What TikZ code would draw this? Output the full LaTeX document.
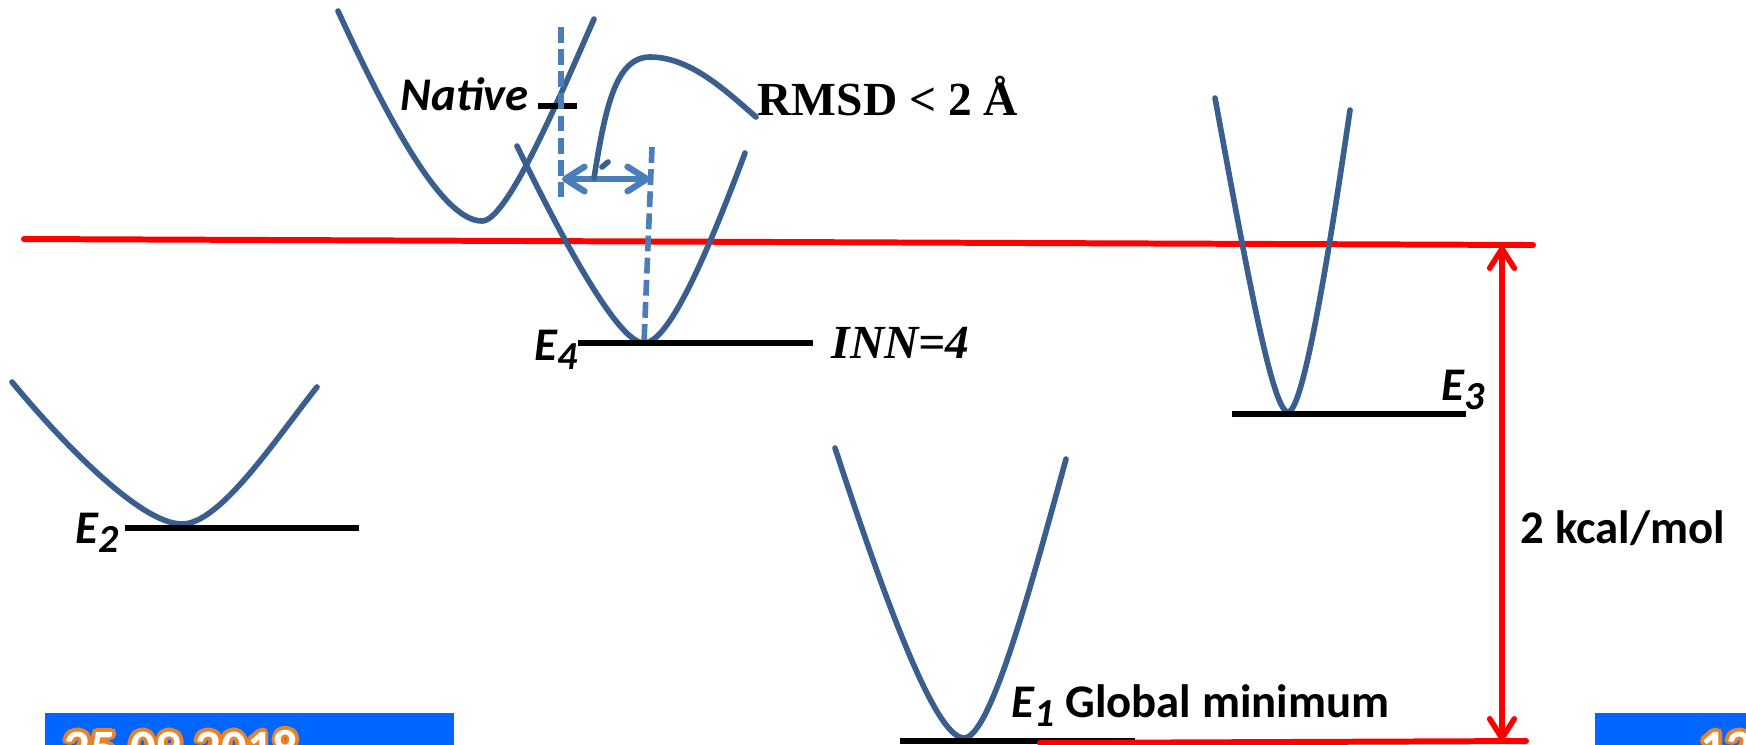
\documentclass[tikz,border=0pt]{standalone}
\usepackage{fontspec}
\setmainfont{Carlito}
\newfontfamily\timesfont{Liberation Serif}
\usepackage{tikz}
\usetikzlibrary{arrows.meta}

\definecolor{wellblue}{HTML}{3A5F8F}
\definecolor{guideblue}{HTML}{4A7EBB}
\definecolor{slideblue}{HTML}{0066FF}
\definecolor{glow}{HTML}{E8832A}
\newcommand{\lowidx}[1]{{\fontsize{11.3pt}{12pt}\selectfont\raisebox{-2.8pt}{#1}}}

\begin{document}
\begin{tikzpicture}[x=0.01cm, y=-0.01cm, line cap=round,
    well/.style={wellblue, line width=1.6pt},
    level/.style={black, line width=1.8pt, line cap=butt},
    guide/.style={guideblue, line width=1.6pt, line cap=butt, dash pattern=on 4.5pt off 1.8pt},
    lbl/.style={inner sep=0pt, anchor=base west, font=\fontsize{13.3pt}{16pt}\selectfont\bfseries},
    serif/.style={lbl, font=\timesfont\fontsize{13.5pt}{16pt}\selectfont\bfseries},
    stamp/.style={inner sep=0pt, anchor=base west, font=\fontsize{14.5pt}{16pt}\selectfont\bfseries},
    barb/.tip={Straight Barb[round, length=5.5pt, width=7pt]}]
    \useasboundingbox (0,0) rectangle (1746,744);
    \clip (0,0) rectangle (1746,744);

    % Fusszeile der Folie (unten abgeschnitten)
    \fill[slideblue] (45,713) rectangle (454,780);
    \fill[slideblue] (1595,713) rectangle (1760,780);
    \foreach \a [count=\i] in {0,45,...,315} {
        \node[stamp, text=glow, shift={(\a:1.1pt)}] (datehalo\i) at (64,765) {25.09.2018};
        \node[stamp, text=glow, shift={(\a:1.1pt)}] (pagehalo\i) at (1700,765) {12};
    }
    \node[stamp, text=white] (date) at (64,765) {25.09.2018};
    \node[stamp, text=white] (page) at (1700,765) {12};

    % Energieschwelle
    \draw[red, line width=1.7pt] (24,239) -- (1533,245);

    % Minimum E2
    \draw[well] (12,382) .. controls (60,440) and (140,524) .. (182,524)
        .. controls (220,524) and (275,440) .. (317,387);
    \draw[level] (125,528) -- (359,528);
    \node[lbl] (e2) at (75,543) {\itshape E\lowidx{2}};

    % native Struktur
    \draw[well] (338,11) .. controls (395,135) and (445,221) .. (482,221)
        .. controls (505,221) and (550,120) .. (594,19);
    \draw[level] (538,106) -- (577,106);
    \node[lbl] (native) at (400,110) {\itshape Native};

    % Minimum E4
    \draw[well] (517,146) .. controls (570,255) and (620,343) .. (644,343)
        .. controls (668,343) and (705,260) .. (745,153);
    \draw[level] (578,343) -- (813,343);
    \node[lbl] (e4) at (534,360) {\itshape E\lowidx{4}};
    \node[serif] (inn) at (831,358) {\itshape INN=4};

    % Hilfslinien und Abstand
    \draw[guide] (561,27) -- (561,197);
    \draw[guide] (652,147) -- (644,343);
    \coordinate (natx) at (562,179);
    \coordinate (e4x) at (650,179);
    \draw[guideblue, line width=1.8pt, barb-barb] (natx) -- (e4x);

    % Beschriftung RMSD
    \node[serif] (rmsd) at (757,115) {RMSD < 2 Å};
    \draw[well] (594,178) .. controls (605,110) and (615,57) .. (650,57)
        .. controls (690,57) and (725,90) .. (756,117);
    \draw[well] (602,167) -- (608,162);

    % Minimum E3
    \draw[well] (1215,98) .. controls (1245,260) and (1272,412) .. (1288,412)
        .. controls (1303,412) and (1328,260) .. (1350,110);
    \draw[level] (1232,414) -- (1466,414);
    \node[lbl] (e3) at (1441,400) {\itshape E\lowidx{3}};

    % globales Minimum E1
    \draw[well] (835,448) .. controls (885,600) and (935,738) .. (964,738)
        .. controls (990,738) and (1030,590) .. (1066,459);
    \draw[level] (900,741) -- (1135,741);
    \draw[red, line width=1.7pt] (1040,743) -- (1526,741);
    \node[lbl] (e1) at (1011,717) {{\itshape E\lowidx{1}} Global minimum};

    % Energieabstand
    \coordinate (gtop) at (1502,246);
    \coordinate (gbot) at (1502,741);
    \draw[red, line width=1.6pt, barb-barb] (gbot) -- (gtop);
    \node[lbl] (gap) at (1520,543) {2 kcal/mol};
\end{tikzpicture}
\end{document}
